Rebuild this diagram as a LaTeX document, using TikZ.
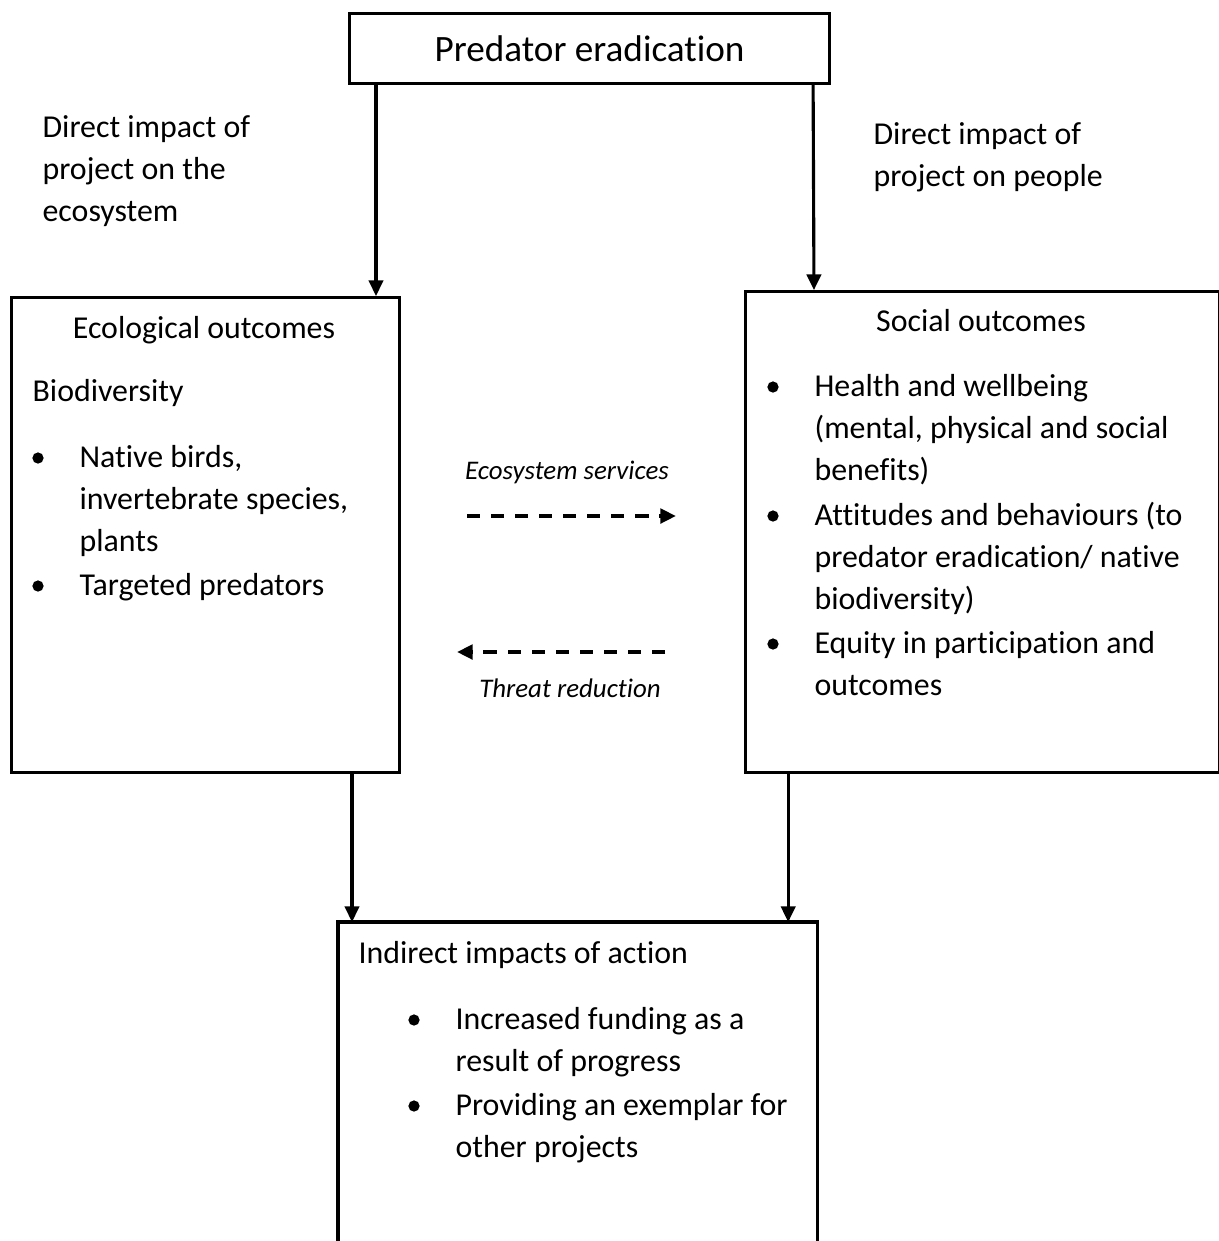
\documentclass[tikz,border=0pt]{standalone}
\usepackage{fontspec}
\setmainfont{Carlito}[Ligatures=NoCommon]
\usetikzlibrary{positioning, arrows.meta}

\tikzset{
  box/.style={draw, line width=1pt, inner sep=0pt, anchor=north west},
  txt/.style={anchor=base west, inner sep=0pt, align=left, font=\fontsize{10.2}{13.44}\selectfont},
  lbl/.style={inner sep=0pt, font=\fontsize{8.6}{12}\selectfont\itshape},
  dot/.style={circle, fill, inner sep=0pt, minimum size=3.6pt},
  arr/.style={-{Triangle[width=4.6pt,length=5pt]}, line width=1pt},
  darr/.style={-{Triangle[width=4.6pt,length=5pt]}, line width=1.3pt, dash pattern=on 4.2pt off 3.5pt},
}

\begin{document}
\begin{tikzpicture}[x=0.32pt, y=-0.32pt]
\useasboundingbox (0,0) rectangle (1219,1241);

%boites
\node[box, minimum width=153.6pt, minimum height=22.4pt] (pred) at (348,12) {};
\node[font=\fontsize{11.9}{14}\selectfont] (predt) at (pred.center) {Predator eradication};
\node[box, minimum width=124.16pt, minimum height=152pt] (eco) at (10,296) {};
\node[box, minimum width=151.68pt, minimum height=153.92pt] (soc) at (744,290) {};
\node[minimum width=152.96pt, minimum height=104pt, inner sep=0pt, anchor=north west] (ind) at (338,922) {};
\draw[line width=1pt] (ind.south west) |- (ind.north east) -- (ind.south east);

%fleches directes
\draw[arr] ([xshift=8.96pt]pred.south west) -- ([xshift=8.96pt]pred.south west |- eco.north);
\draw[arr] ([xshift=-5.76pt]pred.south east) -- ([xshift=22.4pt]soc.north west);
\node[txt] (dl) at (42,221) {Direct impact of\\project on the\\ecosystem};
\node[txt] (dr) at (873,186) {Direct impact of\\project on people};

%ecologie
\node[txt, anchor=base] (ecot) at (204,338) {Ecological outcomes};
\node[txt] (bio) at (32,401) {Biodiversity};
\node[dot] (e1) at (38,458) {};
\node[txt] (e1t) at (79,551) {Native birds,\\invertebrate species,\\plants};
\node[dot] (e2) at (38,586) {};
\node[txt] (e2t) at (79,595) {Targeted predators};

%social
\node[txt, anchor=base] (soct) at (981,331) {Social outcomes};
\node[dot] (s1) at (773,387) {};
\node[txt] (s1t) at (814,480) {Health and wellbeing\\(mental, physical and social\\benefits)};
\node[dot] (s2) at (773,516) {};
\node[txt] (s2t) at (814,609) {Attitudes and behaviours (to\\predator eradication/ native\\biodiversity)};
\node[dot] (s3) at (773,644) {};
\node[txt] (s3t) at (814,695) {Equity in participation and\\outcomes};

%services
\coordinate (es1) at (467,516);
\coordinate (es2) at (676,516);
\coordinate (tr1) at (665,652);
\coordinate (tr2) at (457,652);
\draw[darr] (es1) -- (es2);
\draw[darr] (tr1) -- (tr2);
\node[lbl] (est) at (567,472) {Ecosystem services};
\node[lbl] (trt) at (570,688) {Threat reduction};

%indirect
\draw[arr] ([xshift=4.48pt]ind.north west |- eco.south) -- ([xshift=4.48pt]ind.north west);
\draw[arr] ([xshift=-9.28pt]ind.north east |- soc.south) -- ([xshift=-9.28pt]ind.north east);
\node[txt] (indt) at (358,963) {Indirect impacts of action};
\node[dot] (i1) at (414,1020) {};
\node[txt] (i1t) at (455,1071) {Increased funding as a\\result of progress};
\node[dot] (i2) at (414,1106) {};
\node[txt] (i2t) at (455,1157) {Providing an exemplar for\\other projects};
\end{tikzpicture}
\end{document}
